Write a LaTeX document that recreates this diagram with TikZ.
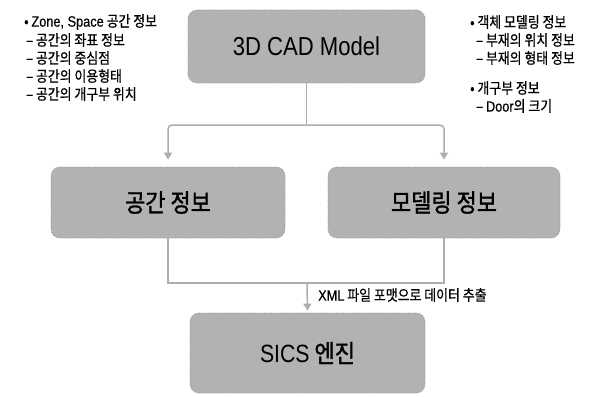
\documentclass[tikz,border=0pt]{standalone}
\usepackage{fontspec}
\setmainfont{Liberation Sans}
\newfontfamily\kr[FakeStretch=0.88,FakeBold=1.2]{Noto Sans CJK KR}
\newfontfamily\krs[FakeStretch=0.86,FakeBold=0.7]{Noto Sans CJK KR}
\newfontfamily\lat[FakeStretch=0.85]{Liberation Sans}
\newfontfamily\lats[FakeStretch=0.85,FakeBold=0.5]{Liberation Sans}
\usetikzlibrary{arrows.meta}
\begin{document}
\begin{tikzpicture}[x=1pt,y=-1pt,
  box/.style={draw=black!40, densely dotted, line width=0.8pt, fill=black!30,
    rounded corners=9pt, inner sep=0pt},
  big/.style={font=\kr\fontsize{25}{25}\selectfont},
  conn/.style={draw=black!32, line width=1.5pt},
  arr/.style={conn, -{Triangle[width=8pt,length=7pt]}},
  note/.style={anchor=west, inner sep=0pt, font=\krs\fontsize{15}{15}\selectfont},
]
\useasboundingbox (0,0) rectangle (602,396);

\node[box, minimum width=237pt, minimum height=73pt] (cad) at (306.5,46.5)
  {\lat\fontsize{26}{26}\selectfont 3D CAD Model};
\node[box, big, minimum width=234pt, minimum height=71pt] (space) at (168,202.5) {공간 정보};
\node[box, big, minimum width=232pt, minimum height=71pt] (model) at (444,202.5) {모델링 정보};
\node[box, big, minimum width=235pt, minimum height=80pt] (sics) at (307.5,353)
  {{\lat SICS} 엔진};

% connectors
\coordinate (j1) at (306.5,125);
\coordinate (j2) at (307,283);
\draw[conn] (cad.south) -- (j1);
\draw[arr, rounded corners=4pt, shorten >=7pt] (j1) -| (space.north);
\draw[arr, rounded corners=4pt, shorten >=7pt] (j1) -| (model.north);
\draw[conn] (space.south) |- (j2) -| (model.south);
\draw[arr, shorten >=2pt] (j2) -- (sics.north);

\node[note] (xml) at (318,295) {{\lats XML} 파일 포맷으로 데이터 추출};

% left notes
\node[note] (l1) at (24,22) {• {\lats Zone, Space} 공간 정보};
\node[note] (l2) at (26,40) {– 공간의 좌표 정보};
\node[note] (l3) at (26,58) {– 공간의 중심점};
\node[note] (l4) at (26,76) {– 공간의 이용형태};
\node[note] (l5) at (26,94) {– 공간의 개구부 위치};

% right notes
\node[note] (r1) at (470,22) {• 객체 모델링 정보};
\node[note] (r2) at (476,40) {– 부재의 위치 정보};
\node[note] (r3) at (476,58) {– 부재의 형태 정보};
\node[note] (r4) at (470,88) {• 개구부 정보};
\node[note] (r5) at (476,106) {– {\lats Door}의 크기};
\end{tikzpicture}
\end{document}
